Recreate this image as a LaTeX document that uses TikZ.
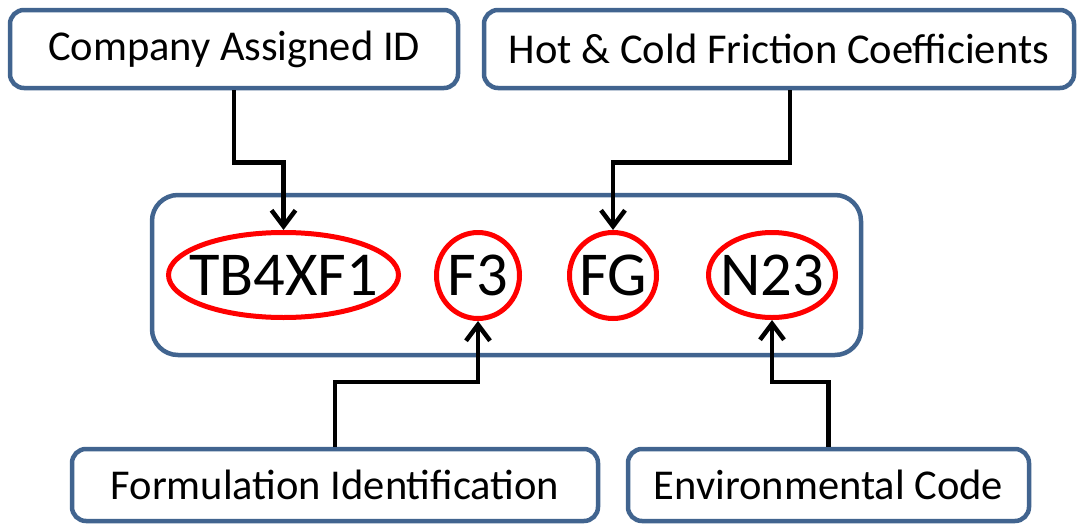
\documentclass[tikz,border=0pt]{standalone}
\usepackage{fontspec}
\setmainfont{Carlito}
\usetikzlibrary{arrows.meta,shapes.geometric}
\definecolor{boxblue}{HTML}{41648F}
\definecolor{ovred}{HTML}{FF0000}
\begin{document}
\begin{tikzpicture}[x=1pt,y=-1pt,
  labelbox/.style={draw=boxblue,line width=4.5pt,rounded corners=14pt,fill=white,inner sep=0pt,
     font=\fontsize{42.5}{50}\selectfont},
  codebox/.style={draw=boxblue,line width=4.5pt,rounded corners=26pt,inner sep=0pt},
  oval/.style={ellipse,draw=ovred,line width=5pt,inner sep=0pt,
     label={[font=\fontsize{62.5}{75}\selectfont,inner sep=0pt]center:#1}},
  conn/.style={line width=4.5pt,-{Straight Barb[length=16pt,width=24pt,line width=4.5pt]}}]
\useasboundingbox (0,0) rectangle (1084,525);
\node[labelbox,minimum width=448pt,minimum height=78pt] (comp) at (234,49) {Company Assigned ID};
\node[labelbox,minimum width=590pt,minimum height=78pt] (hot) at (779,49) {Hot \& Cold Friction Coefficients};
\node[codebox,minimum width=709pt,minimum height=160pt] (code) at (506.5,275) {};
\node[labelbox,minimum width=526pt,minimum height=72pt] (form) at (335,485) {Formulation Identification};
\node[labelbox,minimum width=401pt,minimum height=72pt] (env) at (828.5,485) {Environmental Code};
\node[oval=TB4XF1,minimum width=230pt,minimum height=85pt] (tb) at (283.5,275) {};
\node[oval=F3,minimum width=83pt,minimum height=86pt] (f3) at (478,275.5) {};
\node[oval=FG,minimum width=87pt,minimum height=86pt] (fg) at (613,275.5) {};
\node[oval=N23,minimum width=127pt,minimum height=85pt] (n23) at (772,275) {};
\draw[conn] (comp.south) -- ++(0,72) -| (tb.north);
\draw[conn] ([xshift=11pt]hot.south) -- ++(0,72) -| (fg.north);
\draw[conn] (form.north) -- ++(0,-65) -| (f3.south);
\draw[conn] (env.north) -- ++(0,-65) -| (n23.south);
\end{tikzpicture}
\end{document}
